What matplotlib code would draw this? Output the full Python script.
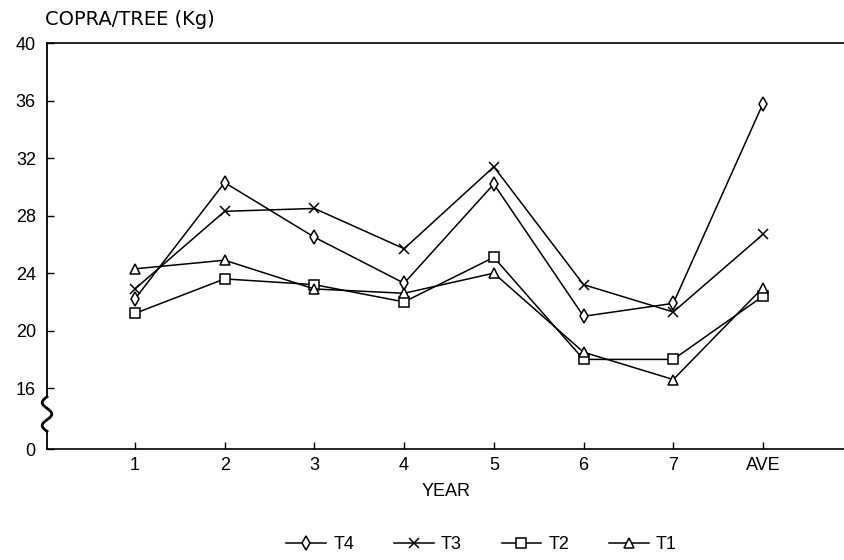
import matplotlib
matplotlib.use("Agg")
import matplotlib.pyplot as plt
import matplotlib.transforms as mtransforms
import numpy as np

# values (copra per tree, kg)
years = ["1", "2", "3", "4", "5", "6", "7", "AVE"]
t4 = [22.2, 30.3, 26.5, 23.3, 30.2, 21.0, 21.9, 35.8]
t3 = [22.9, 28.3, 28.5, 25.7, 31.4, 23.2, 21.3, 26.7]
t2 = [21.2, 23.6, 23.2, 22.0, 25.1, 18.0, 18.0, 22.4]
t1 = [24.3, 24.9, 22.9, 22.6, 24.0, 18.5, 16.6, 23.0]

yticks = [16, 20, 24, 28, 32, 36, 40]
y_zero = 11.76   # where the broken axis puts "0"

plt.rcParams['font.family'] = ['Liberation Sans', 'DejaVu Sans']

fig = plt.figure(figsize=(8.45, 5.6), dpi=100)
ax = fig.add_axes([0.0556, 0.198, 0.944, 0.725])

x = np.arange(1, len(years) + 1)
style = dict(color='black', lw=1.1, markersize=7, markerfacecolor='white',
             markeredgewidth=1.1)
ax.plot(x, t4, marker='d', label='T4', **style)
ax.plot(x, t3, marker='x', label='T3', **style)
ax.plot(x, t2, marker='s', label='T2', **style)
ax.plot(x, t1, marker='^', label='T1', **style)

ax.set_xlim(0.02, 8.91)
ax.set_ylim(y_zero, 40)
ax.set_xticks(x)
ax.set_xticklabels(years)
ax.set_yticks([y_zero] + yticks)
ax.set_yticklabels(['0'] + [str(v) for v in yticks])
ax.tick_params(direction='in', length=5, width=1, labelsize=13, pad=6)
ax.tick_params(axis='y', pad=8)

ax.spines['right'].set_visible(False)
ax.spines['left'].set_visible(False)
for s in ['top', 'bottom']:
    ax.spines[s].set_linewidth(1.2)

# left axis line with a break between 16 and 0
trans = mtransforms.blended_transform_factory(ax.transAxes, ax.transData)
ax.plot([0, 0], [15.4, 40], color='black', lw=1.3, transform=trans, clip_on=False)
ax.plot([0, 0], [y_zero, 13.0], color='black', lw=1.3, transform=trans, clip_on=False)
zz_y = np.linspace(15.4, 13.0, 60)
zz_x = 0.0 + 0.006 * np.sin((zz_y - 15.4) / 2.4 * 3 * np.pi)
ax.plot(zz_x, zz_y, color='black', lw=2.0, transform=trans, clip_on=False)

ax.set_xlabel('YEAR', fontsize=13, labelpad=6)
fig.text(0.053, 0.966, 'COPRA/TREE (Kg)', fontsize=14, ha='left', va='center',
         family=['DejaVu Sans'])

fig.legend(loc='center', bbox_to_anchor=(0.57, 0.027), ncol=4, frameon=False,
           fontsize=13, handlelength=2.2, columnspacing=2.2, handletextpad=0.4)

fig.savefig('out.png', dpi=100)
